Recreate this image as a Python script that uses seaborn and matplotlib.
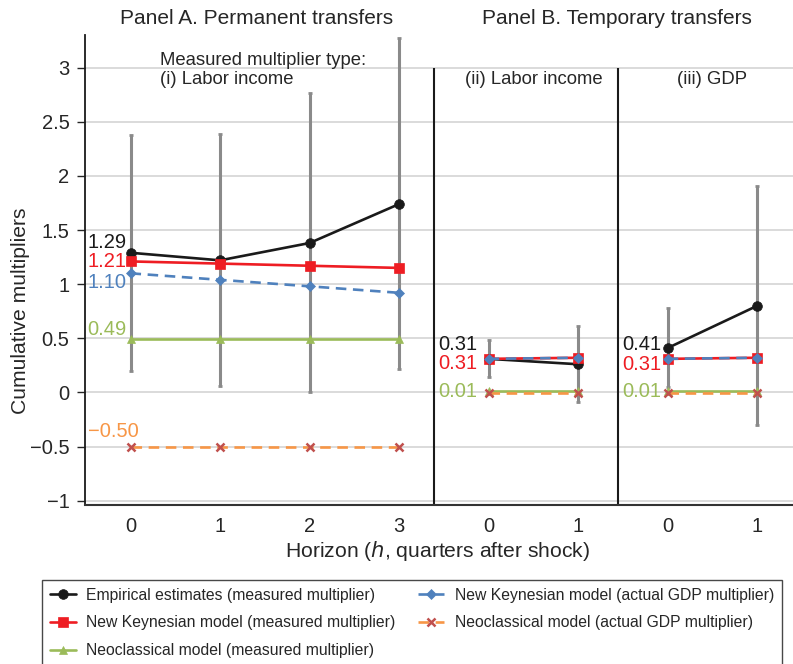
import numpy as np
import pandas as pd
import matplotlib
matplotlib.use("Agg")
import matplotlib.pyplot as plt
import seaborn as sns

# Chart data
positions = [0, 1, 2, 3, 4, 5, 6, 7]
panel = ["i", "i", "i", "i", "ii", "ii", "iii", "iii"]
horizon_labels = ["0", "1", "2", "3", "0", "1", "0", "1"]

empirical = [1.29, 1.22, 1.38, 1.74, 0.31, 0.26, 0.41, 0.80]
empirical_low = [0.20, 0.06, 0.00, 0.22, 0.14, -0.09, 0.05, -0.30]
empirical_high = [2.38, 2.39, 2.77, 3.27, 0.48, 0.61, 0.78, 1.91]
nk_measured = [1.21, 1.19, 1.17, 1.15, 0.31, 0.32, 0.31, 0.32]
nk_actual = [1.10, 1.04, 0.98, 0.92, 0.31, 0.32, 0.31, 0.32]
neo_measured = [0.49, 0.49, 0.49, 0.49, 0.01, 0.01, 0.01, 0.01]
neo_actual = [-0.50, -0.50, -0.50, -0.50, -0.01, -0.01, -0.01, -0.01]

series_names = [
    "Empirical estimates (measured multiplier)",
    "New Keynesian model (measured multiplier)",
    "Neoclassical model (measured multiplier)",
    "New Keynesian model (actual GDP multiplier)",
    "Neoclassical model (actual GDP multiplier)",
]
series_values = [empirical, nk_measured, neo_measured, nk_actual, neo_actual]

# style per series: line colour, marker, marker colour, dashed, marker size
styles = {
    series_names[0]: ("#1a1a1a", "o", "#1a1a1a", False, 7),
    series_names[1]: ("#ee1d23", "s", "#ee1d23", False, 7),
    series_names[2]: ("#9bbb59", "^", "#9bbb59", False, 6),
    series_names[3]: ("#4f81bd", "D", "#4f81bd", True, 5),
    series_names[4]: ("#f79646", "x", "#c0504d", True, 6),
}

rows = []
for name, vals in zip(series_names, series_values):
    for p, pan, v in zip(positions, panel, vals):
        rows.append({"series": name, "pos": p, "panel": pan, "value": v})
df = pd.DataFrame(rows)

sns.set_style("white")
plt.rcParams["font.family"] = ["Liberation Sans", "DejaVu Sans"]

fig = plt.figure(figsize=(7.93, 6.64), dpi=100)
ax = fig.add_axes([0.107, 0.2395, 0.893, 0.7075])

ax.set_ylim(-1.04, 3.30)
ax.set_xlim(-0.51, 7.40)
ax.set_yticks([-1, -0.5, 0, 0.5, 1, 1.5, 2, 2.5, 3])
ax.set_yticklabels(["\u22121", "\u22120.5", "0", "0.5", "1", "1.5", "2", "2.5", "3"])
ax.yaxis.grid(True, color="#d4d4d4", lw=1.2)
ax.set_axisbelow(True)

# panel separators
separators = [3.39, 5.45]
ax.vlines(separators, -1.04, 3.0, color="#1a1a1a", lw=1.5, zorder=2)

# error bars of empirical estimates
emp = np.array(empirical)
ax.errorbar(positions, emp,
            yerr=[emp - np.array(empirical_low), np.array(empirical_high) - emp],
            fmt="none", ecolor="#8a8a8a", elinewidth=2.2, capsize=1.6,
            capthick=2, zorder=3)

handles = {}
for name in series_names:
    color, marker, mcolor, dashed, ms = styles[name]
    sub = df[df["series"] == name]
    for pan in ["i", "ii", "iii"]:
        seg = sub[sub["panel"] == pan]
        sns.lineplot(data=seg, x="pos", y="value", ax=ax, color=color,
                     lw=1.9, linestyle=(0, (4, 2.5)) if dashed else "-",
                     marker=marker, markersize=ms, markerfacecolor=mcolor,
                     markeredgecolor=mcolor, markeredgewidth=1.8 if marker == "x" else 0.5,
                     zorder=4, legend=False)
    handles[name] = ax.lines[-1]

# value labels at first point of each panel (left-aligned at panel edge)
label_specs = {
    0: (-0.48, [(series_names[0], 10), (series_names[1], 0), (series_names[3], -9),
                (series_names[2], 10), (series_names[4], 15)]),
    4: (3.44, [(series_names[0], 14), (series_names[1], -5), (series_names[2], 0)]),
    6: (5.49, [(series_names[0], 4), (series_names[1], -6), (series_names[2], 0)]),
}
for pos, (lx, items) in label_specs.items():
    for name, dy in items:
        v = series_values[series_names.index(name)][pos]
        txt = f"{v:.2f}".replace("-", "\u2212")
        ax.annotate(txt, (lx, v), xytext=(0, dy),
                    textcoords="offset pixels", ha="left", va="center",
                    fontsize=14.5, color=styles[name][0], zorder=5)

# panel annotations
ax.text(0.33, 3.07, "Measured multiplier type:", fontsize=13.3, va="center", ha="left")
ax.text(0.33, 2.89, "(i) Labor income", fontsize=13.3, va="center", ha="left")
ax.text(4.5, 2.89, "(ii) Labor income", fontsize=13.3, va="center", ha="center")
ax.text(6.5, 2.89, "(iii) GDP", fontsize=13.3, va="center", ha="center")
ax.text(1.41, 1.035, "Panel A. Permanent transfers", fontsize=15,
        ha="center", va="center", transform=ax.get_xaxis_transform())
ax.text(5.43, 1.035, "Panel B. Temporary transfers", fontsize=15,
        ha="center", va="center", transform=ax.get_xaxis_transform())

ax.set_xticks(positions)
ax.set_xticklabels(horizon_labels)
ax.tick_params(axis="y", left=True, length=6, width=1, labelsize=14.5, pad=5)
ax.tick_params(axis="x", bottom=False, labelsize=14.5, pad=5)
ax.set_xlabel("")
ax.set_ylabel("")
sns.despine(ax=ax, top=True, right=True)
ax.spines["left"].set_color("#1a1a1a")
ax.spines["left"].set_linewidth(1.3)
ax.spines["bottom"].set_color("#333333")
ax.spines["bottom"].set_linewidth(1.5)

fig.text(0.026, 1 - 311 / 664, "Cumulative multipliers", rotation=90,
         fontsize=15.2, ha="center", va="center")
fig.text(438 / 793, 1 - 551 / 664, "Horizon ($h$, quarters after shock)",
         fontsize=15.2, ha="center", va="center")

leg = fig.legend([handles[n] for n in series_names], series_names,
                 loc="upper left", bbox_to_anchor=(0.053, 0.127), ncol=2,
                 fontsize=11.35, frameon=True, fancybox=False, handlelength=1.65,
                 columnspacing=1.45, labelspacing=0.82, borderpad=0.5,
                 handletextpad=0.65, borderaxespad=0)
leg.get_frame().set_edgecolor("#1a1a1a")
leg.get_frame().set_linewidth(1.0)

fig.savefig("out.png", dpi=100)
